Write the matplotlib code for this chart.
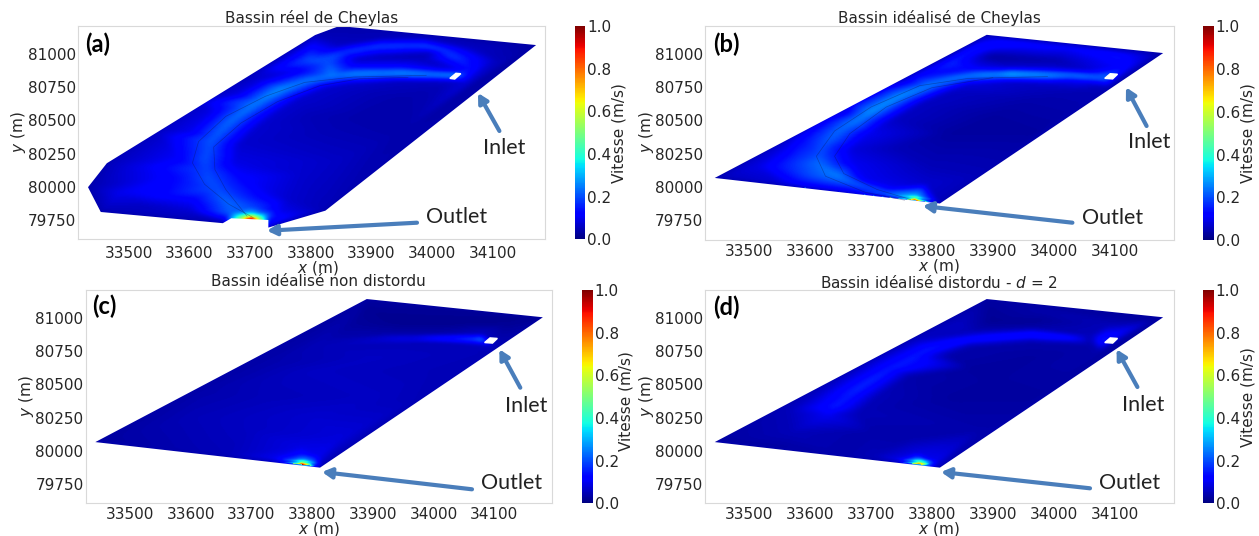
import numpy as np
import matplotlib
matplotlib.use('Agg')
import matplotlib.pyplot as plt
import matplotlib.tri as mtri
from matplotlib.patches import Polygon

W, H = 1259, 536

x_ticks = [33500, 33600, 33700, 33800, 33900, 34000, 34100]
y_ticks = [79750, 80000, 80250, 80500, 80750, 81000]
cbar_ticks = [0.0, 0.2, 0.4, 0.6, 0.8, 1.0]

# basin outlines
real_x = [33433, 33464, 33807, 33847, 34171, 33824, 33730, 33730, 33669, 33655, 33454]
real_y = [79998, 80178, 81140, 81208, 81065, 79822, 79695, 79752, 79765, 79728, 79812]
ideal_x = [33443, 33890, 34180, 33813]
ideal_y = [80067, 81142, 81005, 79875]

# inlet holes
inlet_real_x = [34029, 34039, 34047, 34037]
inlet_real_y = [80815, 80853, 80850, 80810]
inlet_ideal_x = [34084, 34093, 34105, 34097]
inlet_ideal_y = [80815, 80850, 80846, 80811]

# velocity samples (x, y, speed)
field_a = [
    (33433, 79998, .04), (33464, 80178, .05), (33807, 81140, .05), (33847, 81208, .04),
    (34171, 81065, .03), (33824, 79822, .05), (33730, 79695, .1), (33655, 79728, .05), (33454, 79812, .05),
    # main jet
    (34029, 80832, .28), (33990, 80840, .27), (33949, 80848, .28), (33910, 80845, .27), (33870, 80840, .27),
    (33837, 80825, .25), (33804, 80802, .25), (33778, 80768, .25), (33751, 80728, .27), (33732, 80678, .26),
    (33712, 80628, .25), (33692, 80565, .24), (33672, 80502, .23), (33655, 80428, .22), (33639, 80352, .21),
    (33632, 80277, .2), (33626, 80202, .2), (33628, 80127, .19), (33632, 80052, .2), (33645, 79977, .2),
    (33659, 79902, .22),
    # its flanks
    (33949, 80790, .06), (33949, 80900, .12), (33870, 80775, .07), (33870, 80900, .12), (33830, 80745, .07),
    (33775, 80860, .1), (33785, 80665, .07), (33720, 80790, .09), (33750, 80570, .07), (33680, 80690, .09),
    (33715, 80450, .07), (33635, 80560, .09), (33685, 80320, .07), (33600, 80400, .1), (33675, 80180, .09),
    (33580, 80210, .11), (33690, 80050, .12), (33580, 80060, .13), (33705, 79920, .14), (33610, 79915, .13),
    (34030, 80790, .07), (34030, 80880, .08),
    # outlet
    (33702, 79757, .95), (33685, 79768, .5), (33718, 79757, .55), (33730, 79752, .15), (33660, 79765, .12),
    (33645, 79777, .12), (33702, 79790, .36), (33670, 79795, .22), (33730, 79785, .22), (33702, 79835, .2),
    (33751, 79802, .1),
    # upper loop
    (33830, 80925, .2), (33797, 80950, .2), (33850, 81002, .18), (33883, 81035, .18), (33916, 81057, .19),
    (33952, 81060, .19), (33989, 81052, .2), (34015, 81020, .18), (34035, 80977, .18), (34052, 80925, .15),
    (34065, 80865, .13), (33916, 80972, .05), (33982, 80965, .05), (33880, 80960, .06),
    (34000, 81000, .06), (33850, 81060, .06), (33916, 81110, .05), (33989, 81110, .06), (34070, 81030, .06),
    (34110, 80950, .05),
    # east side
    (33817, 80402, .05), (33883, 80527, .04), (33949, 80652, .04), (34016, 80752, .05), (33850, 80202, .06),
    (33784, 80102, .07), (33764, 79902, .07), (33949, 80402, .04), (33800, 80520, .05),
    (33900, 80700, .05), (34060, 80790, .08),
    # west side
    (33696, 80828, .05), (33606, 80640, .05), (33545, 80400, .06), (33513, 80152, .09),
    (33487, 79952, .1), (33553, 79927, .12), (33530, 79850, .06), (33600, 79810, .07),
]
field_b = [
    (33443, 80067, .05), (33890, 81142, .05), (34180, 81005, .03), (33813, 79875, .05),
    # main jet
    (34085, 80822, .24), (34040, 80832, .26), (33996, 80840, .28), (33963, 80845, .3), (33930, 80847, .32),
    (33897, 80842, .28), (33864, 80832, .26), (33830, 80800, .24), (33798, 80765, .25), (33775, 80728, .26),
    (33752, 80690, .27), (33725, 80628, .27), (33699, 80565, .27), (33676, 80500, .25), (33653, 80440, .23),
    (33636, 80372, .22), (33620, 80302, .2), (33615, 80240, .2), (33613, 80177, .23), (33628, 80125, .24),
    (33646, 80077, .25), (33672, 80030, .22), (33699, 79990, .2), (33722, 79958, .2), (33745, 79925, .24),
    # its flanks
    (33996, 80785, .08), (33996, 80890, .08), (33930, 80790, .07), (33930, 80900, .07), (33864, 80775, .08),
    (33864, 80885, .12), (33825, 80705, .06), (33770, 80825, .12), (33785, 80630, .06), (33720, 80745, .1),
    (33740, 80510, .06), (33665, 80620, .11), (33695, 80400, .1), (33620, 80490, .11), (33670, 80280, .08),
    (33585, 80340, .13), (33670, 80170, .1), (33570, 80200, .16), (33690, 80050, .1), (33600, 80090, .2),
    (33735, 79990, .1), (33660, 79985, .14), (34050, 80790, .1), (34050, 80880, .07),
    # outlet
    (33771, 79895, .95), (33758, 79902, .5), (33785, 79890, .5), (33771, 79925, .33), (33804, 79883, .12),
    (33735, 79918, .2), (33650, 79960, .08), (33550, 80011, .07),
    # upper band
    (33831, 80927, .16), (33845, 80980, .15), (33864, 81027, .15), (33890, 81060, .14), (33916, 81077, .14),
    (33970, 81070, .13), (34029, 81052, .12), (34065, 81020, .13), (34101, 80990, .14), (34112, 80945, .13),
    (34121, 80902, .12), (33897, 80977, .03), (33996, 80952, .04), (34029, 80815, .16), (34030, 81076, .05),
    # dark centre and east edge
    (33831, 80402, .03), (33897, 80527, .03), (33963, 80652, .04), (34029, 80727, .05), (33740, 80290, .05),
    (33798, 80152, .05), (33790, 80020, .07), (33880, 80080, .05), (33975, 80400, .03), (34090, 80750, .05),
    # west edge
    (33560, 80350, .07), (33650, 80570, .07), (33750, 80805, .06), (33514, 80150, .09),
]
field_c = [
    (33443, 80067, .03), (33890, 81142, .03), (34180, 81005, .02), (33813, 79875, .05),
    (33782, 79893, 1.0), (33772, 79899, .55), (33793, 79888, .55), (33782, 79920, .33), (33760, 79915, .22),
    (33803, 79900, .22), (33782, 79960, .15), (33740, 79945, .1), (33810, 79950, .1), (33782, 80020, .09),
    (33745, 79911, .12), (33720, 79923, .07), (33650, 79960, .05), (33550, 80011, .04),
    (33600, 80250, .05), (33700, 80400, .05), (33800, 80600, .06), (33900, 80700, .06), (33800, 80250, .07),
    (33700, 80150, .06), (33900, 80400, .06), (34000, 80600, .05), (34100, 80750, .05), (33850, 80100, .08),
    (33620, 80450, .04), (33720, 80650, .04), (33810, 80800, .05), (33950, 80960, .015), (34050, 80960, .015),
    (33890, 81050, .02), (34120, 80950, .02), (33860, 80930, .03), (33975, 80400, .05),
    # inlet jet
    (34079, 80835, .28), (34060, 80838, .22), (34040, 80840, .2), (34015, 80842, .17), (33990, 80842, .15),
    (33955, 80840, .11), (33920, 80838, .09), (34079, 80800, .07), (34079, 80870, .06),
    (34040, 80810, .06), (34040, 80870, .05), (33990, 80815, .05), (33990, 80870, .04),
    (33920, 80810, .05), (33920, 80870, .04), (34100, 80790, .05),
]
field_d = [
    (33443, 80067, .03), (33890, 81142, .03), (34180, 81005, .02), (33813, 79875, .05),
    # jet
    (34081, 80828, .16), (34022, 80850, .15), (33963, 80870, .15), (33913, 80855, .15), (33864, 80835, .14),
    (33830, 80800, .14), (33798, 80765, .15), (33765, 80690, .15), (33732, 80615, .15), (33705, 80540, .16),
    (33679, 80465, .16), (33660, 80395, .15), (33640, 80328, .15), (33627, 80265, .1),
    (33963, 80815, .04), (33963, 80920, .04), (34060, 80800, .04), (34060, 80860, .05), (33864, 80780, .04),
    (33864, 80890, .05), (33825, 80715, .04), (33770, 80825, .06), (33765, 80560, .04), (33700, 80680, .06),
    (33715, 80420, .05), (33650, 80530, .07), (33680, 80290, .05), (33600, 80380, .07),
    # south
    (33864, 80620, .03), (33963, 80700, .03), (34075, 80740, .04), (33831, 80390, .03), (33897, 80515, .03),
    (33765, 80090, .04), (33699, 80140, .04), (33880, 80150, .04), (33975, 80400, .03),
    # north
    (33963, 80975, .02), (33897, 80965, .02), (33844, 80950, .06), (34088, 80940, .05), (33996, 81040, .04),
    (33560, 80300, .05), (33567, 80130, .05),
    # outlet
    (33778, 79895, .85), (33765, 79905, .42), (33790, 79889, .42), (33778, 79930, .27), (33745, 79925, .1),
    (33805, 79910, .1), (33775, 79975, .09), (33700, 79960, .05), (33745, 79911, .1), (33720, 79923, .05),
    (33650, 79960, .04), (33550, 80011, .03), (33803, 79880, .1),
]

# faint streamlines
stream_a_x = [33990, 33870, 33790, 33725, 33660, 33615, 33605, 33625, 33665, 33705]
stream_a_y = [80838, 80825, 80785, 80680, 80530, 80340, 80180, 80020, 79870, 79770]
stream_a2_x = [33960, 33880, 33815, 33745, 33685, 33640, 33642, 33660, 33695]
stream_a2_y = [80822, 80812, 80760, 80640, 80480, 80300, 80130, 79980, 79780]
stream_b_x = [33990, 33860, 33780, 33700, 33640, 33610, 33625, 33690, 33755]
stream_b_y = [80828, 80815, 80760, 80600, 80420, 80230, 80080, 79960, 79900]
stream_b2_x = [33900, 33800, 33725, 33665, 33640, 33655, 33710, 33765]
stream_b2_y = [80820, 80745, 80600, 80400, 80230, 80100, 79980, 79905]


def frac_x(px):
    return px / W


def frac_y(py):
    return 1 - py / H


def soften(grid, nx=9, ny=7):
    # box blur along both axes, hides the triangle edges of the linear fit
    out = np.apply_along_axis(lambda r: np.convolve(r, np.ones(nx) / nx, mode='same'), 1, grid)
    return np.apply_along_axis(lambda c: np.convolve(c, np.ones(ny) / ny, mode='same'), 0, out)


text_col = '#262626'
arrow_col = '#4a7ebb'

fig = plt.figure(figsize=(W / 100, H / 100), dpi=100)

panels = [
    dict(box=(78.3, 26, 545.2, 239.3), xlim=(33417, 34186), ylim=(79607, 81208), cb=(574.5, 585.4),
         title='Bassin réel de Cheylas', tpos=(312, 18), letter='(a)', lpos=(98, 44),
         xl=(318, 268), yl=(19, 132), cl=(619, 133), pad=5,
         field=field_a, ox=real_x, oy=real_y, ix=inlet_real_x, iy=inlet_real_y,
         streams=[(stream_a_x, stream_a_y), (stream_a2_x, stream_a2_y)],
         inlet=((504, 148), (499.4, 131), (478, 93)), outlet=((457, 217), (417, 222.7), (267, 230.7))),
    dict(box=(705, 26.3, 1173.5, 240), xlim=(33427, 34197), ylim=(79601, 81206), cb=(1202.8, 1213.6),
         title='Bassin idéalisé de Cheylas', tpos=(939, 18), letter='(b)', lpos=(726, 44),
         xl=(939, 266), yl=(646, 132), cl=(1248, 133), pad=3,
         field=field_b, ox=ideal_x, oy=ideal_y, ix=inlet_ideal_x, iy=inlet_ideal_y,
         streams=[(stream_b_x, stream_b_y), (stream_b2_x, stream_b2_y)],
         inlet=((1149, 142), (1146.6, 126), (1126, 87.3)), outlet=((1112.5, 218), (1072.4, 222.7), (922.8, 206))),
    dict(box=(85.6, 290, 552, 503.3), xlim=(33427, 34195), ylim=(79607, 81210), cb=(581.8, 592.6),
         title='Bassin idéalisé non distordu', tpos=(318.6, 282), letter='(c)', lpos=(104.5, 306),
         xl=(319, 529), yl=(26, 396), cl=(626, 401), pad=3,
         field=field_c, ox=ideal_x, oy=ideal_y, ix=inlet_ideal_x, iy=inlet_ideal_y, streams=[],
         inlet=((526, 406), (520.3, 387.7), (499.4, 349.3)), outlet=((512, 483), (472, 489.3), (322, 472))),
    dict(box=(705, 290, 1173.5, 503.3), xlim=(33427, 34197), ylim=(79607, 81210), cb=(1202.8, 1213.6),
         title=r'Bassin idéalisé distordu - $d$ = 2', tpos=(939, 282), letter='(d)', lpos=(726, 307),
         xl=(939, 529), yl=(646, 396), cl=(1248, 397), pad=3,
         field=field_d, ox=ideal_x, oy=ideal_y, ix=inlet_ideal_x, iy=inlet_ideal_y, streams=[],
         inlet=((1143.4, 405), (1137.4, 387), (1116.6, 349.3)), outlet=((1130, 483), (1090, 488.3), (941, 472))),
]

for p in panels:
    x0, y0, x1, y1 = p['box']
    ax = fig.add_axes([frac_x(x0), frac_y(y1), (x1 - x0) / W, (y1 - y0) / H])
    fx, fy, fv = np.array(p['field']).T
    tri = mtri.Triangulation(fx, fy)
    interp = mtri.LinearTriInterpolator(tri, fv)
    gx = np.linspace(p['xlim'][0], p['xlim'][1], 480)
    gy = np.linspace(p['ylim'][0], p['ylim'][1], 220)
    gxx, gyy = np.meshgrid(gx, gy)
    linear = np.ma.filled(interp(gxx, gyy), 0.04)
    # keep the outlet peak, the blur would flatten it
    grid = np.maximum(soften(linear), 1.15 * linear - 0.15)
    mesh = ax.imshow(grid, origin='lower', extent=(gx[0], gx[-1], gy[0], gy[-1]), aspect='auto',
                     cmap='jet', vmin=0, vmax=1, interpolation='bilinear')
    clip = Polygon(np.column_stack([p['ox'], p['oy']]), closed=True, transform=ax.transData, fc='none', ec='none')
    ax.add_patch(clip)
    mesh.set_clip_path(clip)
    for sx, sy in p['streams']:
        ax.plot(sx, sy, color='#101040', lw=0.5, alpha=0.35)
    ax.fill(p['ix'], p['iy'], color='white', zorder=3)

    ax.set_xlim(p['xlim'])
    ax.set_ylim(p['ylim'])
    ax.set_xticks(x_ticks)
    ax.set_yticks(y_ticks)
    ax.tick_params(axis='x', length=0, pad=p['pad'], labelsize=11, labelcolor=text_col)
    ax.tick_params(axis='y', length=0, pad=1.5, labelsize=11, labelcolor=text_col)
    for s in ax.spines.values():
        s.set_color('#d9d9d9')
        s.set_linewidth(0.8)

    fig.text(frac_x(p['tpos'][0]), frac_y(p['tpos'][1]), p['title'], ha='center', va='center', fontsize=11, color=text_col)
    fig.text(frac_x(p['xl'][0]), frac_y(p['xl'][1]), r'$x$ (m)', ha='center', va='center', fontsize=11, color=text_col)
    fig.text(frac_x(p['yl'][0]), frac_y(p['yl'][1]), r'$y$ (m)', ha='center', va='center', rotation=90, fontsize=11, color=text_col)
    fig.text(frac_x(p['lpos'][0]), frac_y(p['lpos'][1]), p['letter'], ha='center', va='center', fontsize=17,
             fontweight='bold', family='Lato', color='black')

    cax = fig.add_axes([frac_x(p['cb'][0]), frac_y(y1), (p['cb'][1] - p['cb'][0]) / W, (y1 - y0) / H])
    cbar = fig.colorbar(mesh, cax=cax, ticks=cbar_ticks)
    cbar.outline.set_visible(False)
    cax.tick_params(length=0, pad=1.5, labelsize=11, labelcolor=text_col)
    fig.text(frac_x(p['cl'][0]), frac_y(p['cl'][1]), 'Vitesse (m/s)', ha='center', va='center', rotation=90,
             fontsize=11, color=text_col)

    # inlet and outlet arrows sit on top of everything, in figure coordinates
    for lab, key in (('Inlet', 'inlet'), ('Outlet', 'outlet')):
        pos, tail, head = p[key]
        fig.text(frac_x(pos[0]), frac_y(pos[1]), lab, ha='center', va='center', fontsize=15.5, family='Lato', color='#222222')
        ax.annotate('', xy=(frac_x(head[0]), frac_y(head[1])), xytext=(frac_x(tail[0]), frac_y(tail[1])),
                    xycoords='figure fraction', textcoords='figure fraction',
                    arrowprops=dict(arrowstyle='-|>,head_length=0.55,head_width=0.3', color=arrow_col, lw=3,
                                    shrinkA=0, shrinkB=0), annotation_clip=False, zorder=5)

fig.savefig('out.png', dpi=100)
